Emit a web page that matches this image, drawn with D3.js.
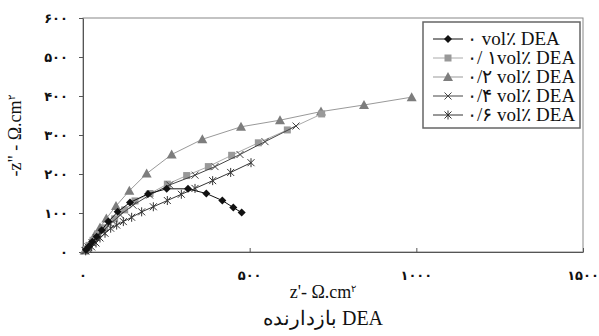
<!DOCTYPE html>
<html>
<head>
<meta charset="UTF-8">
<title>Nyquist DEA</title>
<script src="https://d3js.org/d3.v7.min.js"></script>
<style>
  body { margin: 0; background: #fff; }
  svg { display: block; }
</style>
</head>
<body>
<svg id="chart" width="599" height="336"></svg>
<script>
// series values (z' and -z'' in ohm.cm2)
const s0x = [9, 18, 28, 41, 56, 76, 104, 141, 195, 251, 315, 370, 418, 451, 476];
const s0y = [6, 15, 26, 39, 56, 78, 103, 127, 149, 162, 162, 150, 132, 114, 101];

const s1x = [8, 18, 30, 45, 65, 95, 125, 156, 201, 253, 311, 376, 446, 526, 613, 716];
const s1y = [6, 17, 30, 45, 62, 85, 108, 131, 150, 174, 196, 219, 248, 280, 313, 354];

const s2x = [5, 13, 24, 36, 51, 70, 99, 139, 191, 266, 358, 474, 591, 714, 843, 986];
const s2y = [4, 13, 26, 44, 63, 86, 118, 157, 201, 250, 289, 321, 338, 360, 377, 397];

const s4x = [6, 15, 27, 40, 58, 82, 112, 150, 200, 260, 336, 396, 471, 546, 639];
const s4y = [4, 13, 24, 37, 52, 72, 95, 120, 146, 172, 197, 219, 250, 283, 323];

const s6x = [8, 15, 26, 39, 51, 66, 83, 101, 121, 146, 176, 211, 253, 295, 336, 389, 443, 504];
const s6y = [3, 7, 13, 23, 36, 48, 61, 69, 78, 89, 103, 116, 132, 148, 163, 183, 204, 229];

const seriesNames = ["۰ vol٪ DEA", "۰/ ۱vol٪ DEA", "۰/۲ vol٪ DEA", "۰/۴ vol٪ DEA", "۰/۶ vol٪ DEA"];
const xTicks = [0, 500, 1000, 1500];
const xTickLabels = ["۰", "۵۰۰", "۱۰۰۰", "۱۵۰۰"];
const yTicks = [0, 100, 200, 300, 400, 500, 600];
const yTickLabels = ["۰", "۱۰۰", "۲۰۰", "۳۰۰", "۴۰۰", "۵۰۰", "۶۰۰"];

const serif = '"Liberation Serif"';
const sans = '"DejaVu Sans"';

const styles = [
  { line: "#111", fill: "#111", marker: "diamond" },
  { line: "#aaa", fill: "#999", marker: "square" },
  { line: "#999", fill: "#7d7d7d", marker: "triangle" },
  { line: "#444", fill: "#333", marker: "x" },
  { line: "#333", fill: "#222", marker: "star" }
];

const series = [[s0x, s0y], [s1x, s1y], [s2x, s2y], [s4x, s4y], [s6x, s6y]].map((p, i) => ({
  name: seriesNames[i],
  style: styles[i],
  pts: p[0].map((x, j) => ({ x: x, y: p[1][j] }))
}));

const svg = d3.select("#chart");
const plotL = 83, plotR = 583, plotT = 18, plotB = 252;

const x = d3.scaleLinear().domain([0, 1500]).range([plotL, plotR]);
const y = d3.scaleLinear().domain([0, 600]).range([plotB, plotT]);

// plot frame
svg.append("rect")
  .attr("x", plotL).attr("y", plotT)
  .attr("width", plotR - plotL).attr("height", plotB - plotT)
  .attr("fill", "none").attr("stroke", "#888").attr("stroke-width", 1);

// axes
const xAxis = svg.append("g")
  .attr("transform", `translate(0,${plotB})`)
  .call(d3.axisBottom(x).tickValues(xTicks).tickSizeInner(-4).tickSizeOuter(0).tickFormat(""));
const yAxis = svg.append("g")
  .attr("transform", `translate(${plotL},0)`)
  .call(d3.axisLeft(y).tickValues(yTicks).tickSizeInner(4).tickSizeOuter(0).tickFormat(""));
[xAxis, yAxis].forEach(a => {
  a.select(".domain").attr("stroke", "#555");
  a.selectAll(".tick line").attr("stroke", "#555");
});

svg.append("g").selectAll("text")
  .data(xTicks)
  .join("text")
  .style("font-family", sans).style("font-size", "13px").style("font-weight", "bold")
  .attr("fill", "#111")
  .attr("x", d => x(d))
  .attr("y", 280)
  .attr("text-anchor", "middle")
  .text((d, i) => xTickLabels[i]);

svg.append("g").selectAll("text")
  .data(yTicks)
  .join("text")
  .style("font-family", sans).style("font-size", "13px").style("font-weight", "bold")
  .attr("fill", "#111")
  .attr("x", 68)
  .attr("y", d => y(d) + 5)
  .attr("text-anchor", "end")
  .text((d, i) => yTickLabels[i]);

// marker drawing
function marker(g, type, fill, stroke) {
  if (type === "diamond") {
    g.append("path").attr("d", "M0,-4L4,0L0,4L-4,0Z").attr("fill", fill);
  } else if (type === "square") {
    g.append("rect").attr("x", -3.5).attr("y", -3.5).attr("width", 7).attr("height", 7).attr("fill", fill);
  } else if (type === "triangle") {
    g.append("path").attr("d", "M0,-5L5,4L-5,4Z").attr("fill", fill);
  } else if (type === "x") {
    g.append("path").attr("d", "M-3.5,-3.5L3.5,3.5M-3.5,3.5L3.5,-3.5")
      .attr("stroke", stroke).attr("stroke-width", 1).attr("fill", "none");
  } else {
    g.append("path").attr("d", "M-3.5,-3.5L3.5,3.5M-3.5,3.5L3.5,-3.5M0,-4.5L0,4.5")
      .attr("stroke", stroke).attr("stroke-width", 1).attr("fill", "none");
  }
}

const line = d3.line().x(d => x(d.x)).y(d => y(d.y));

// draw in an order so the dark series sit on top
[2, 1, 3, 4, 0].forEach(i => {
  const s = series[i];
  svg.append("path")
    .datum(s.pts)
    .attr("d", line)
    .attr("fill", "none")
    .attr("stroke", s.style.line)
    .attr("stroke-width", 1);
  svg.append("g").selectAll("g")
    .data(s.pts)
    .join("g")
    .attr("transform", d => `translate(${x(d.x)},${y(d.y)})`)
    .each(function () { marker(d3.select(this), s.style.marker, s.style.fill, s.style.line); });
});

// legend
const lg = svg.append("g");
lg.append("rect")
  .attr("x", 423).attr("y", 22).attr("width", 157).attr("height", 106)
  .attr("fill", "#fff").attr("stroke", "#666").attr("stroke-width", 1.5);
series.forEach((s, i) => {
  const ly = 39 + i * 19;
  lg.append("line")
    .attr("x1", 433).attr("x2", 463).attr("y1", ly).attr("y2", ly)
    .attr("stroke", s.style.line).attr("stroke-width", 1);
  marker(lg.append("g").attr("transform", `translate(448,${ly})`), s.style.marker, s.style.fill, s.style.line);
  lg.append("text")
    .style("font-family", serif).style("font-size", "19px")
    .attr("x", 467).attr("y", ly + 6)
    .attr("fill", "#111")
    .text(s.name);
});

// axis titles
const xt = svg.append("text")
  .style("font-family", serif).style("font-size", "18px")
  .attr("x", 323).attr("y", 298)
  .attr("text-anchor", "middle")
  .attr("fill", "#111");
xt.append("tspan").text("z'- Ω.cm");
xt.append("tspan").style("font-size", "10px").attr("dy", -6).text("۲");

svg.append("text")
  .style("font-family", serif).style("font-size", "20px")
  .attr("x", 323).attr("y", 325)
  .attr("text-anchor", "middle")
  .attr("fill", "#111")
  .text("بازدارنده DEA");

const yt = svg.append("text")
  .style("font-family", serif).style("font-size", "18px")
  .attr("transform", "translate(21,136) rotate(-90)")
  .attr("text-anchor", "middle")
  .attr("fill", "#111");
yt.append("tspan").text("-z\" - Ω.cm");
yt.append("tspan").style("font-size", "10px").attr("dy", -6).text("۲");
</script>
</body>
</html>
